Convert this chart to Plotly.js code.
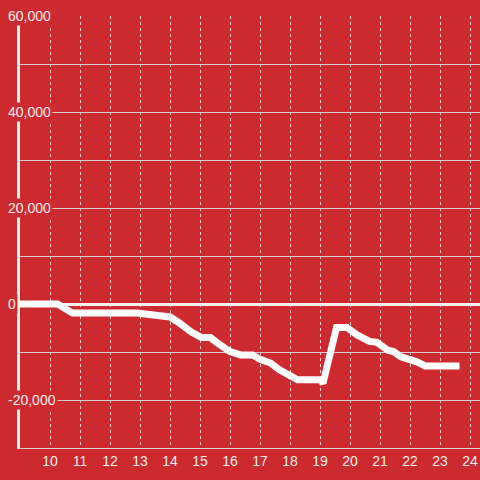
<!DOCTYPE html>
<html>
<head>
<meta charset="utf-8">
<script src="https://cdn.plot.ly/plotly-3.0.1.min.js"></script>
<style>html,body{margin:0;padding:0;background:#cc2a2e;}#chart{width:480px;height:480px;}</style>
</head>
<body>
<div id="chart"></div>
<script>
const hours = [9, 10.25, 10.75, 12.9, 13.45, 14.0, 14.3, 14.7, 15.05, 15.35, 15.6, 16.0, 16.35, 16.75, 17.0, 17.35, 17.65, 18.0, 18.25, 19.0, 19.1, 19.55, 19.9, 20.25, 20.65, 20.9, 21.25, 21.45, 21.7, 22.25, 22.5, 23.65];
const values = [0, 0, -1900, -1900, -2300, -2700, -3900, -5800, -7000, -7000, -8200, -9900, -10600, -10600, -11500, -12300, -13700, -15000, -15800, -15800, -16500, -4900, -4900, -6500, -7800, -8000, -9600, -9900, -11000, -12100, -12900, -12900];
const xTickVals = [10, 11, 12, 13, 14, 15, 16, 17, 18, 19, 20, 21, 22, 23, 24];
const yTickVals = [-20000, 0, 20000, 40000, 60000];
const yTickText = ['-20,000', '0', '20,000', '40,000', '60,000'];

const bg = '#cc2a2e';
const txt = '#f3eeee';

const annotations = yTickVals.map((v, i) => ({
  xref: 'paper', yref: 'y', x: 0, y: v,
  xanchor: 'left', yanchor: 'middle', xshift: -14,
  text: yTickText[i], showarrow: false,
  bgcolor: bg, borderpad: 1,
  font: {family: 'Liberation Sans, Arial, sans-serif', size: 14, color: txt}
}));

const trace = {
  x: hours, y: values, type: 'scatter', mode: 'lines',
  line: {color: '#ffffff', width: 7},
  hoverinfo: 'skip'
};

const layout = {
  width: 480, height: 480,
  margin: {l: 20, r: 0, t: 16, b: 32},
  paper_bgcolor: bg, plot_bgcolor: bg,
  showlegend: false,
  font: {family: 'Liberation Sans, Arial, sans-serif', size: 14, color: txt},
  xaxis: {
    range: [9, 24.333], tickvals: xTickVals, ticktext: xTickVals.map(String),
    showgrid: true, gridcolor: '#e4d0d0', gridwidth: 1, griddash: 'dot',
    zeroline: false, showline: true, linecolor: '#d8d0d0', linewidth: 1,
    ticks: '', tickfont: {size: 14, color: txt}
  },
  yaxis: {
    range: [-30000, 60000], dtick: 10000, tick0: 0,
    showgrid: true, gridcolor: '#d9cccc', gridwidth: 1,
    zeroline: true, zerolinecolor: '#f4f0f0', zerolinewidth: 3,
    showline: true, linecolor: '#f4f0f0', linewidth: 3,
    showticklabels: false, ticks: ''
  },
  annotations: annotations
};

Plotly.newPlot('chart', [trace], layout, {displayModeBar: false, staticPlot: true});
</script>
</body>
</html>
